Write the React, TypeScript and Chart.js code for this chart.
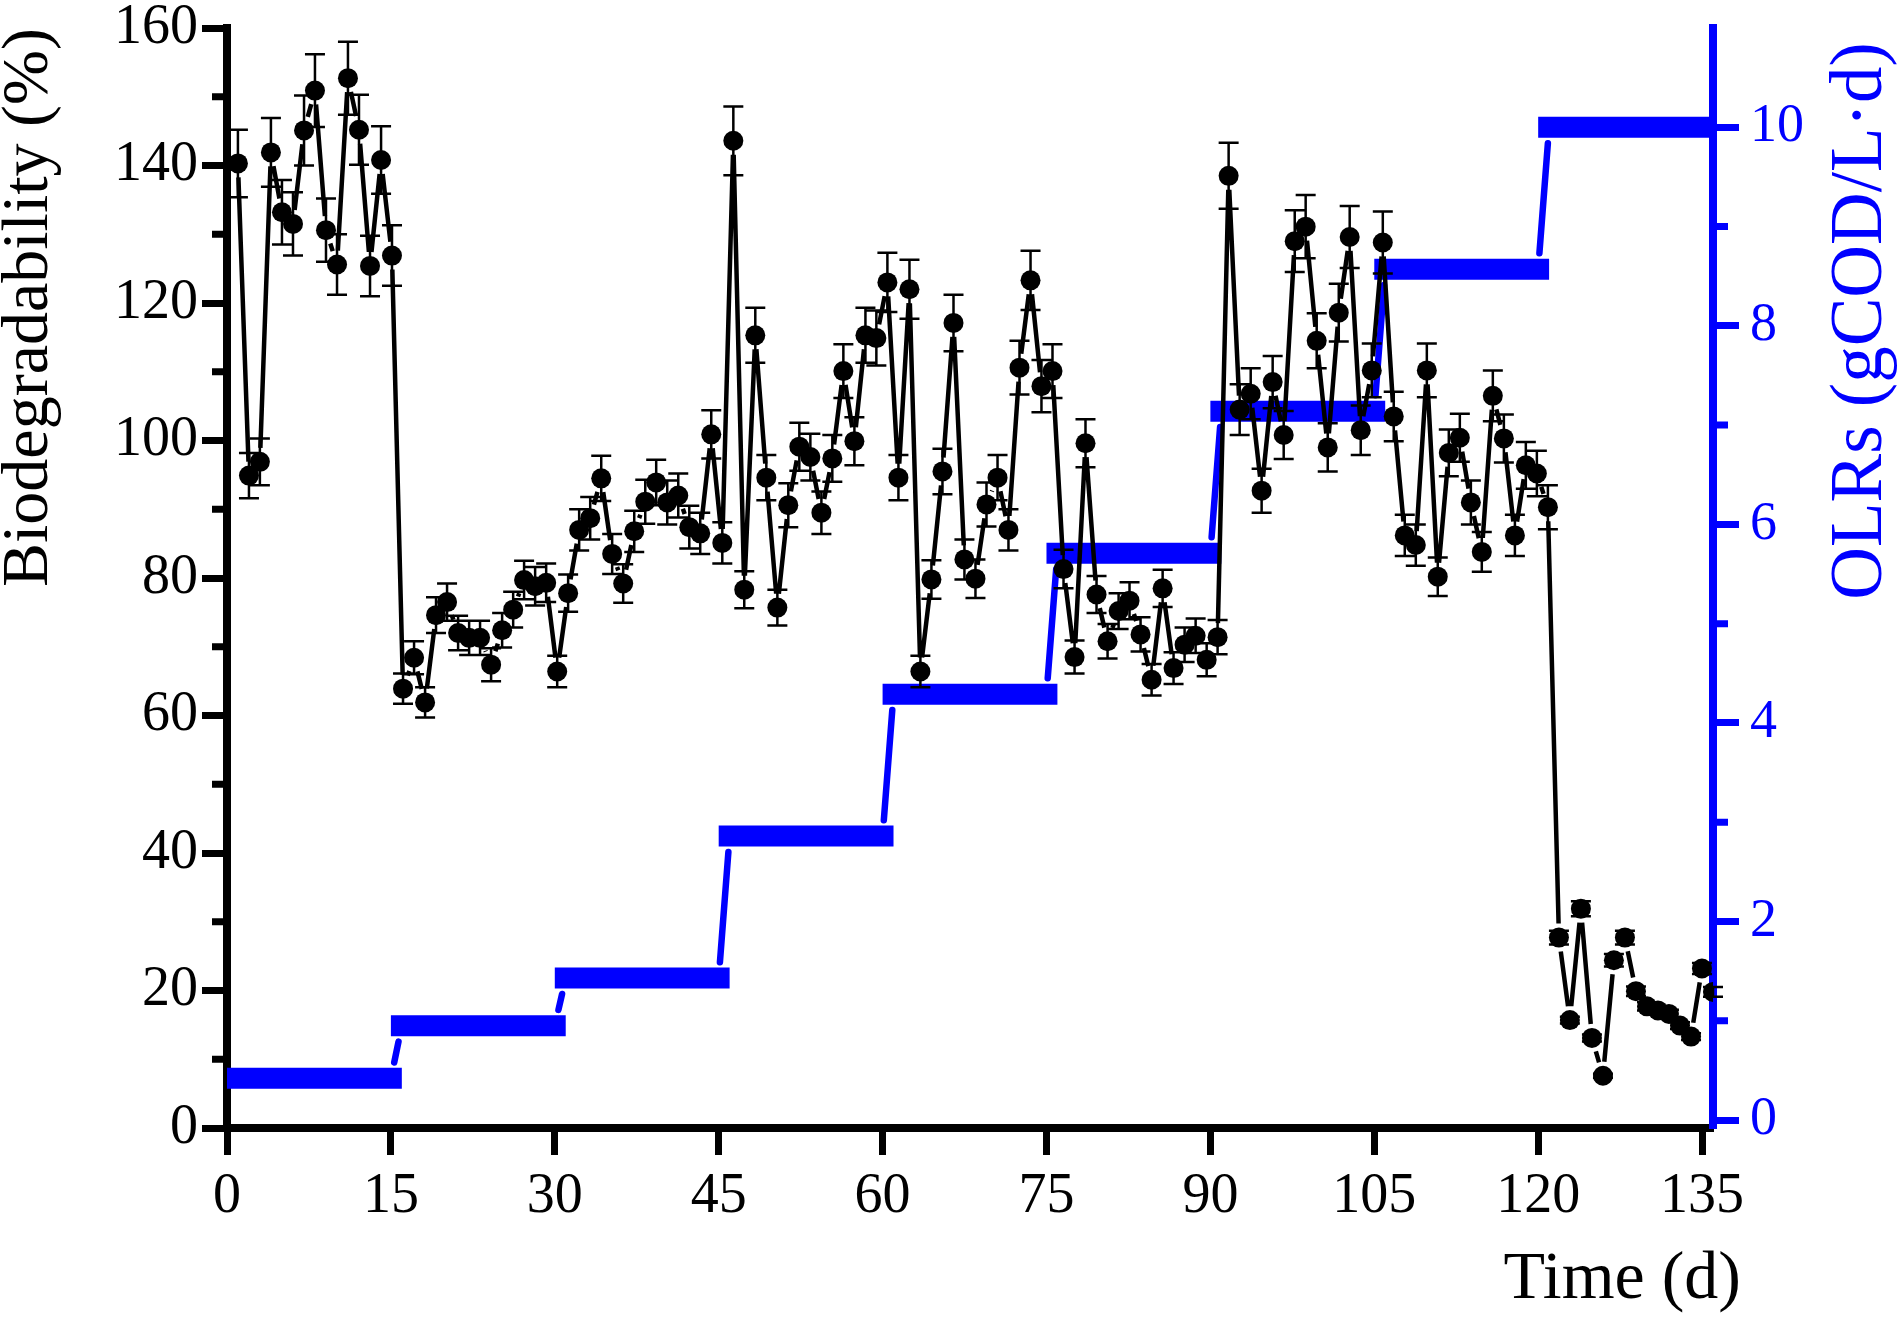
import React, { useEffect, useRef } from "react";
import { Chart, registerables } from "chart.js";

Chart.register(...registerables);

// ---- Data ----
const days = [
  1.0, 2.01, 3.01, 4.02, 5.03, 6.04, 7.05, 8.05, 9.06, 10.07, 11.07, 12.08, 13.09, 14.1, 15.1,
  16.11, 17.12, 18.13, 19.13, 20.14, 21.15, 22.16, 23.16, 24.17, 25.18, 26.19, 27.19, 28.2, 29.21, 30.22,
  31.22, 32.23, 33.24, 34.25, 35.25, 36.26, 37.27, 38.28, 39.28, 40.29, 41.3, 42.31, 43.31, 44.32, 45.33,
  46.34, 47.34, 48.35, 49.36, 50.37, 51.37, 52.38, 53.39, 54.4, 55.4, 56.41, 57.42, 58.43, 59.43, 60.44,
  61.45, 62.46, 63.46, 64.47, 65.48, 66.49, 67.49, 68.5, 69.51, 70.52, 71.52, 72.53, 73.54, 74.54, 75.55,
  76.56, 77.57, 78.57, 79.58, 80.59, 81.6, 82.6, 83.61, 84.62, 85.63, 86.63, 87.64, 88.65, 89.66, 90.66,
  91.67, 92.68, 93.69, 94.69, 95.7, 96.71, 97.72, 98.72, 99.73, 100.74, 101.75, 102.75, 103.76, 104.77, 105.78,
  106.78, 107.79, 108.8, 109.81, 110.81, 111.82, 112.83, 113.84, 114.84, 115.85, 116.86, 117.87, 118.87, 119.88, 120.89,
  121.9, 122.9, 123.91, 124.92, 125.93, 126.93, 127.94, 128.95, 129.96, 130.96, 131.97, 132.98, 133.99, 134.99, 136.0,
];

const biodegradability = [
  140.3, 94.9, 96.9, 141.9, 133.2, 131.5, 145.1, 150.9, 130.6, 125.6, 152.7, 145.2, 125.4, 140.8, 126.9,
  63.9, 68.4, 61.9, 74.6, 76.5, 72.0, 71.3, 71.3, 67.4, 72.4, 75.4, 79.7, 78.8, 79.3, 66.4,
  77.8, 87.0, 88.7, 94.5, 83.5, 79.2, 86.8, 91.1, 93.9, 91.0, 92.0, 87.4, 86.5, 100.9, 85.1,
  143.6, 78.3, 115.3, 94.6, 75.7, 90.6, 99.1, 97.6, 89.5, 97.4, 110.1, 99.9, 115.3, 114.9, 123.0,
  94.6, 122.0, 66.4, 79.8, 95.5, 117.1, 82.7, 79.9, 90.7, 94.6, 87.0, 110.6, 123.3, 107.9, 110.1,
  81.3, 68.5, 99.6, 77.6, 70.8, 75.2, 76.7, 71.8, 65.2, 78.5, 66.9, 70.3, 71.6, 68.1, 71.4,
  138.5, 104.5, 106.8, 92.7, 108.5, 100.8, 129.0, 131.1, 114.5, 99.0, 118.6, 129.6, 101.5, 110.2, 128.8,
  103.5, 86.2, 84.8, 110.2, 80.2, 98.2, 100.4, 91.0, 83.8, 106.5, 100.3, 86.2, 96.4, 95.2, 90.3,
  27.7, 15.7, 31.9, 13.1, 7.6, 24.4, 27.7, 19.9, 17.7, 17.1, 16.6, 14.9, 13.3, 23.2, 19.8,
];

const biodegradabilityError = [
  4.9, 3.3, 3.4, 5.0, 4.7, 4.6, 5.1, 5.3, 4.6, 4.4, 5.3, 5.1, 4.4, 4.9, 4.4,
  2.2, 2.4, 2.2, 2.6, 2.7, 2.5, 2.5, 2.5, 2.4, 2.5, 2.6, 2.8, 2.8, 2.8, 2.3,
  2.7, 3.0, 3.1, 3.3, 2.9, 2.8, 3.0, 3.2, 3.3, 3.2, 3.2, 3.1, 3.0, 3.5, 3.0,
  5.0, 2.7, 4.0, 3.3, 2.6, 3.2, 3.5, 3.4, 3.1, 3.4, 3.9, 3.5, 4.0, 4.0, 4.3,
  3.3, 4.3, 2.3, 2.8, 3.3, 4.1, 2.9, 2.8, 3.2, 3.3, 3.0, 3.9, 4.3, 3.8, 3.9,
  2.8, 2.4, 3.5, 2.7, 2.5, 2.6, 2.7, 2.5, 2.3, 2.7, 2.3, 2.5, 2.5, 2.4, 2.5,
  4.8, 3.7, 3.7, 3.2, 3.8, 3.5, 4.5, 4.6, 4.0, 3.5, 4.2, 4.5, 3.6, 3.9, 4.5,
  3.6, 3.0, 3.0, 3.9, 2.8, 3.4, 3.5, 3.2, 2.9, 3.7, 3.5, 3.0, 3.4, 3.3, 3.2,
  1.0, 0.5, 1.1, 0.5, 0.3, 0.9, 1.0, 0.7, 0.6, 0.6, 0.6, 0.5, 0.5, 0.8, 0.7,
];

// OLR stages (right axis)
const olrStageStart = [0, 15, 30, 45, 60, 75, 90, 105, 120];
const olrStageEnd = [16, 31, 46, 61, 76, 91, 106, 121, 136];
const olrValues = [0.42, 0.95, 1.43, 2.86, 4.29, 5.71, 7.14, 8.57, 10.0];

// Tick values
const xTicks = [0, 15, 30, 45, 60, 75, 90, 105, 120, 135];
const yTicks = [0, 20, 40, 60, 80, 100, 120, 140, 160];
const yMinorTicks = [10, 30, 50, 70, 90, 110, 130, 150];
const y2Ticks = [0, 2, 4, 6, 8, 10];
const y2MinorTicks = [1, 3, 5, 7, 9];

const FONT = "'Liberation Serif', 'Times New Roman', Times, serif";
const BLUE = "#0000ff";
const BLACK = "#000000";

const LINE_GAP = 14; // gap between connecting line and symbol centre (px)
const CAP = 10; // half width of error-bar caps (px)
const STEP_GAP = 0.16; // gap between OLR connector and OLR bars (right-axis units)

function buildOlrBars() {
  const out: any[] = [];
  olrValues.forEach((v, k) => {
    out.push({ x: olrStageStart[k], y: v });
    out.push({ x: olrStageEnd[k], y: v });
    out.push({ x: olrStageEnd[k], y: null });
  });
  return out;
}

function buildOlrConnectors() {
  const out: any[] = [];
  for (let k = 0; k < olrValues.length - 1; k++) {
    const c = olrStageStart[k + 1];
    const v0 = olrValues[k];
    const v1 = olrValues[k + 1];
    const dv = v1 - v0;
    out.push({ x: c + STEP_GAP / dv, y: v0 + STEP_GAP });
    out.push({ x: c + 1 - STEP_GAP / dv, y: v1 - STEP_GAP });
    out.push({ x: c + 1, y: null });
  }
  return out;
}

const seriesDecorPlugin = {
  id: "seriesDecor",
  beforeDatasetDraw(chart: any, args: any) {
    if (args.index !== 0) return;
    const ctx = chart.ctx;
    const pts = args.meta.data;
    const yScale = chart.scales.y;
    ctx.save();
    // connecting line with gaps near symbols
    ctx.strokeStyle = BLACK;
    ctx.lineWidth = 4.5;
    ctx.lineCap = "butt";
    ctx.beginPath();
    for (let i = 0; i < pts.length - 1; i++) {
      const a = pts[i];
      const b = pts[i + 1];
      const dx = b.x - a.x;
      const dy = b.y - a.y;
      const len = Math.hypot(dx, dy);
      if (len <= 2 * LINE_GAP) continue;
      const ux = dx / len;
      const uy = dy / len;
      ctx.moveTo(a.x + ux * LINE_GAP, a.y + uy * LINE_GAP);
      ctx.lineTo(b.x - ux * LINE_GAP, b.y - uy * LINE_GAP);
    }
    ctx.stroke();
    // error bars
    ctx.lineWidth = 2.5;
    ctx.beginPath();
    pts.forEach((p: any, i: number) => {
      const v = biodegradability[i];
      const e = biodegradabilityError[i];
      const yt = yScale.getPixelForValue(v + e);
      const yb = yScale.getPixelForValue(v - e);
      ctx.moveTo(p.x, yt);
      ctx.lineTo(p.x, yb);
      ctx.moveTo(p.x - CAP, yt);
      ctx.lineTo(p.x + CAP, yt);
      ctx.moveTo(p.x - CAP, yb);
      ctx.lineTo(p.x + CAP, yb);
    });
    ctx.stroke();
    ctx.restore();
  },
};

const axisDecorPlugin = {
  id: "axisDecor",
  beforeDatasetsDraw(chart: any) {
    const { ctx, chartArea, scales } = chart;
    const MINOR = 15;
    ctx.save();
    ctx.lineWidth = 7;
    ctx.strokeStyle = BLACK;
    ctx.beginPath();
    yMinorTicks.forEach((v) => {
      const y = scales.y.getPixelForValue(v);
      ctx.moveTo(chartArea.left - MINOR, y);
      ctx.lineTo(chartArea.left, y);
    });
    ctx.stroke();
    ctx.strokeStyle = BLUE;
    ctx.beginPath();
    y2MinorTicks.forEach((v) => {
      const y = scales.y2.getPixelForValue(v);
      ctx.moveTo(chartArea.right, y);
      ctx.lineTo(chartArea.right + MINOR, y);
    });
    ctx.stroke();
    ctx.restore();
  },
  afterDraw(chart: any) {
    const { ctx, chartArea } = chart;
    ctx.save();
    // right axis title (reads bottom-to-top)
    ctx.fillStyle = BLUE;
    ctx.font = `73px ${FONT}`;
    ctx.textAlign = "center";
    ctx.textBaseline = "middle";
    ctx.translate(chartArea.right + 149, chartArea.top + 293);
    ctx.rotate(-Math.PI / 2);
    ctx.fillText("OLRs (gCOD/L\u00B7d)", 0, 0);
    ctx.restore();
    // x axis title
    ctx.save();
    ctx.fillStyle = BLACK;
    ctx.font = `68px ${FONT}`;
    ctx.textAlign = "right";
    ctx.textBaseline = "middle";
    ctx.fillText("Time (d)", chartArea.right + 28, chartArea.bottom + 152);
    ctx.restore();
  },
};

export default function App() {
  const canvasRef = useRef<HTMLCanvasElement | null>(null);

  useEffect(() => {
    const canvas = canvasRef.current;
    if (!canvas) return;

    const chart = new Chart(canvas, {
      type: "line",
      data: {
        datasets: [
          {
            label: "Biodegradability",
            data: days.map((d, i) => ({ x: d, y: biodegradability[i] })),
            yAxisID: "y",
            showLine: false,
            pointRadius: 10,
            pointStyle: "circle",
            pointBackgroundColor: BLACK,
            pointBorderWidth: 0,
            borderColor: BLACK,
            backgroundColor: BLACK,
          },
          {
            label: "OLRs",
            data: buildOlrBars(),
            yAxisID: "y2",
            borderColor: BLUE,
            borderWidth: 21,
            borderCapStyle: "butt",
            pointRadius: 0,
            spanGaps: false,
            tension: 0,
          },
          {
            label: "OLR steps",
            data: buildOlrConnectors(),
            yAxisID: "y2",
            borderColor: BLUE,
            borderWidth: 6.5,
            borderCapStyle: "round",
            pointRadius: 0,
            spanGaps: false,
            tension: 0,
          },
        ],
      },
      options: {
        responsive: false,
        maintainAspectRatio: false,
        animation: false,
        devicePixelRatio: 1,
        events: [],
        layout: { padding: { top: 28, left: 0, right: 0, bottom: 0 } },
        plugins: {
          legend: { display: false },
          title: { display: false },
          tooltip: { enabled: false },
        },
        scales: {
          x: {
            type: "linear",
            min: 0,
            max: 136,
            afterBuildTicks: (scale: any) => {
              scale.ticks = xTicks.map((v) => ({ value: v }));
            },
            afterFit: (scale: any) => {
              scale.height = 189;
            },
            ticks: {
              autoSkip: false,
              maxRotation: 0,
              color: BLACK,
              padding: 14,
              font: { family: FONT, size: 56, lineHeight: 1 },
              callback: (v: any) => String(v),
            },
            grid: {
              drawOnChartArea: false,
              drawTicks: true,
              tickLength: 27,
              tickWidth: 7,
              tickColor: BLACK,
            },
            border: { display: true, width: 8, color: BLACK },
          },
          y: {
            type: "linear",
            position: "left",
            min: 0,
            max: 160,
            afterBuildTicks: (scale: any) => {
              scale.ticks = yTicks.map((v) => ({ value: v }));
            },
            afterFit: (scale: any) => {
              scale.width = 227;
              scale.paddingTop = 0;
              scale.paddingBottom = 0;
            },
            ticks: {
              color: BLACK,
              padding: 4,
              font: { family: FONT, size: 56, lineHeight: 0.6 },
              callback: (v: any) => String(v),
            },
            grid: {
              drawOnChartArea: false,
              drawTicks: true,
              tickLength: 25,
              tickWidth: 7,
              tickColor: BLACK,
            },
            border: { display: true, width: 8, color: BLACK },
            title: {
              display: true,
              text: "Biodegradability (%)",
              align: "end",
              color: BLACK,
              font: { family: FONT, size: 66, lineHeight: 0.9 },
              padding: { top: 0, bottom: 0 },
            },
          },
          y2: {
            type: "linear",
            position: "right",
            min: -0.08,
            max: 11,
            afterBuildTicks: (scale: any) => {
              scale.ticks = y2Ticks.map((v) => ({ value: v }));
            },
            afterFit: (scale: any) => {
              scale.width = 187;
              scale.paddingTop = 0;
              scale.paddingBottom = 0;
            },
            ticks: {
              color: BLUE,
              padding: 11,
              font: { family: FONT, size: 54, lineHeight: 0.6 },
              callback: (v: any) => String(v),
            },
            grid: {
              drawOnChartArea: false,
              drawTicks: true,
              tickLength: 26,
              tickWidth: 7,
              tickColor: BLUE,
            },
            border: { display: true, width: 8, color: BLUE },
          },
        },
      },
      plugins: [seriesDecorPlugin, axisDecorPlugin],
    } as any);

    return () => chart.destroy();
  }, []);

  return (
    <div style={{ position: "absolute", left: 0, top: 0, width: 1900, height: 1317, background: "#ffffff" }}>
      <canvas ref={canvasRef} width={1900} height={1317} style={{ display: "block", width: 1900, height: 1317 }} />
    </div>
  );
}
